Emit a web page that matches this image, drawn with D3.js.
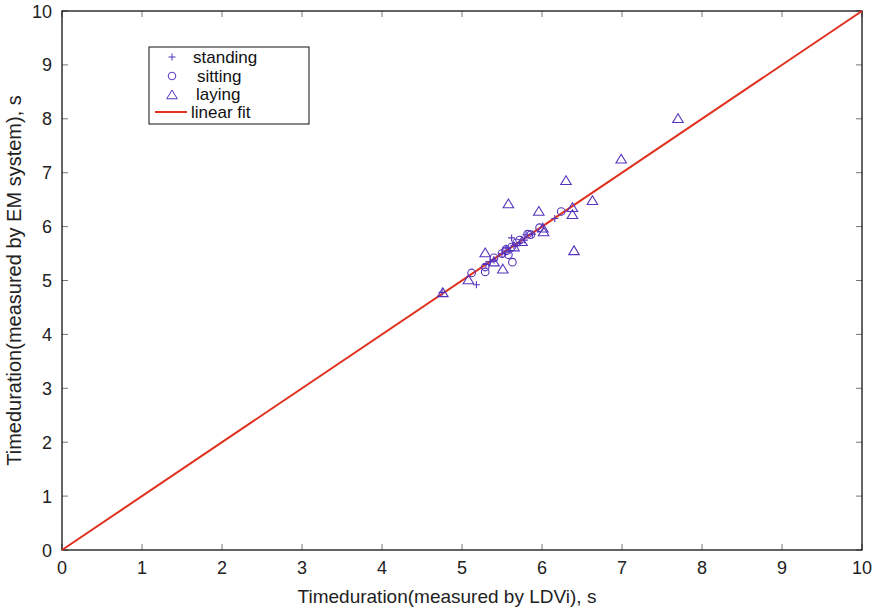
<!DOCTYPE html>
<html><head><meta charset="utf-8">
<script src="https://cdn.jsdelivr.net/npm/d3@7"></script>
<style>body{margin:0;background:#fff;}svg{display:block;font-family:"Liberation Sans",Arial,sans-serif;}</style>
</head><body>
<svg id="c" width="878" height="610"></svg>
<script>
const xTicks = [0,1,2,3,4,5,6,7,8,9,10];
const yTicks = [0,1,2,3,4,5,6,7,8,9,10];
const standing = [[4.75,4.78],[5.18,4.92],[5.3,5.3],[5.35,5.35],[5.4,5.38],[5.5,5.5],[5.55,5.6],[5.6,5.55],[5.62,5.79],[5.65,5.65],[5.72,5.7],[5.78,5.75],[5.8,5.85],[5.88,5.86],[6.16,6.15]];
const sitting = [[5.12,5.14],[5.29,5.16],[5.29,5.25],[5.4,5.42],[5.5,5.5],[5.55,5.58],[5.55,5.55],[5.58,5.48],[5.63,5.34],[5.62,5.62],[5.68,5.7],[5.72,5.75],[5.82,5.86],[5.86,5.85],[5.97,5.98],[6.24,6.28]];
const laying = [[4.76,4.77],[5.08,5.01],[5.29,5.51],[5.4,5.34],[5.51,5.21],[5.58,6.42],[5.65,5.62],[5.75,5.72],[5.96,6.28],[6.01,5.97],[6.02,5.9],[6.3,6.85],[6.38,6.35],[6.38,6.22],[6.4,5.55],[6.63,6.48],[6.99,7.25],[7.7,8.0]];
const fitLine = [[0,0],[10,10]];
const legendLabels = ["standing","sitting","laying","linear fit"];

const svg = d3.select("#c");
const L=62,R=862,T=11,B=550;
const x = d3.scaleLinear().domain([0,10]).range([L,R]);
const y = d3.scaleLinear().domain([0,10]).range([B,T]);
const purple="#5534bd", red="#e0301e";

const tk=6;
const tg=svg.append("g").attr("stroke","#777").attr("stroke-width",1);
xTicks.forEach(v=>{
  tg.append("line").attr("x1",x(v)).attr("x2",x(v)).attr("y1",B).attr("y2",B-tk);
  tg.append("line").attr("x1",x(v)).attr("x2",x(v)).attr("y1",T).attr("y2",T+tk);
});
yTicks.forEach(v=>{
  tg.append("line").attr("y1",y(v)).attr("y2",y(v)).attr("x1",L).attr("x2",L+tk);
  tg.append("line").attr("y1",y(v)).attr("y2",y(v)).attr("x1",R).attr("x2",R-tk);
});
svg.append("rect").attr("x",L).attr("y",T).attr("width",R-L).attr("height",B-T)
  .attr("fill","none").attr("stroke","#111").attr("stroke-width",1.3);

svg.append("g").selectAll("text").data(xTicks).join("text")
  .attr("x",d=>x(d)).attr("y",B+24).attr("text-anchor","middle")
  .attr("font-size",18).attr("fill","#222").text(d=>d);
svg.append("g").selectAll("text").data(yTicks).join("text")
  .attr("x",L-10).attr("y",d=>y(d)+6.5).attr("text-anchor","end")
  .attr("font-size",18).attr("fill","#222").text(d=>d);

svg.append("text").attr("x",(L+R)/2 - 15).attr("y",603).attr("text-anchor","middle")
  .attr("font-size",19).attr("fill","#222").text("Timeduration(measured by LDVi), s");
svg.append("text").attr("transform",`translate(21,${(T+B)/2}) rotate(-90)`).attr("text-anchor","middle")
  .attr("font-size",20).attr("fill","#222").text("Timeduration(measured by EM system), s");

svg.append("path").datum(fitLine).attr("d",d3.line().x(d=>x(d[0])).y(d=>y(d[1])))
  .attr("stroke",red).attr("stroke-width",2).attr("fill","none");

const plusPath = s=>`M${-s},0H${s}M0,${-s}V${s}`;
const triPath = s=>`M0,${-s}L${s*1.05},${s*0.75}L${-s*1.05},${s*0.75}Z`;
const mg=svg.append("g").attr("fill","none").attr("stroke",purple).attr("stroke-width",1.1);
mg.selectAll(".s").data(standing).join("path").attr("class","s")
  .attr("transform",d=>`translate(${x(d[0])},${y(d[1])})`).attr("d",plusPath(3.5));
mg.selectAll(".c").data(sitting).join("circle").attr("class","c")
  .attr("cx",d=>x(d[0])).attr("cy",d=>y(d[1])).attr("r",3.8);
mg.selectAll(".t").data(laying).join("path").attr("class","t")
  .attr("transform",d=>`translate(${x(d[0])},${y(d[1])})`).attr("d",triPath(5));

const lg=svg.append("g");
lg.append("rect").attr("x",149).attr("y",47).attr("width",160).attr("height",77)
  .attr("fill","#fff").attr("stroke","#111").attr("stroke-width",1);
const ly=[57,76,94,112];
const lx=[193,197,196,191];
lg.append("path").attr("transform",`translate(172,${ly[0]})`).attr("d",plusPath(3.5)).attr("stroke",purple).attr("fill","none");
lg.append("circle").attr("cx",172).attr("cy",ly[1]).attr("r",3.8).attr("stroke",purple).attr("fill","none");
lg.append("path").attr("transform",`translate(172,${ly[2]+1})`).attr("d",triPath(5)).attr("stroke",purple).attr("fill","none");
lg.append("line").attr("x1",155).attr("x2",187).attr("y1",ly[3]).attr("y2",ly[3]).attr("stroke",red).attr("stroke-width",2);
lg.selectAll("text").data(legendLabels).join("text")
  .attr("x",(d,i)=>lx[i]).attr("y",(d,i)=>ly[i]+6).attr("font-size",17).attr("fill","#111").text(d=>d);
</script>
</body></html>
